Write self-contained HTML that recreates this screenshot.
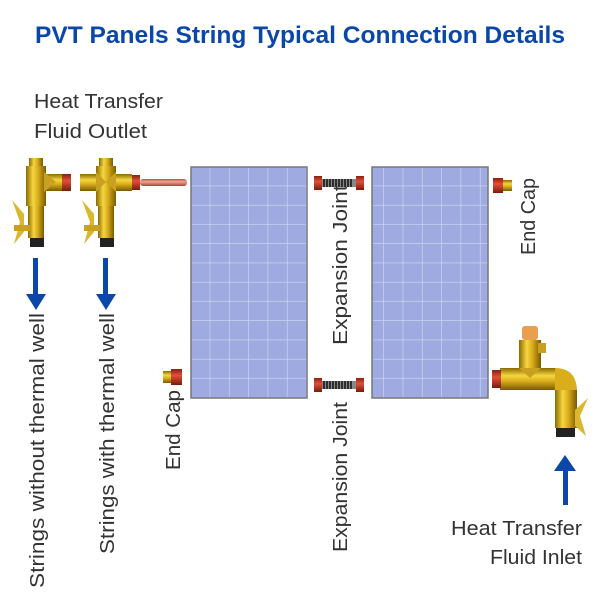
<!DOCTYPE html>
<html><head><meta charset="utf-8"><style>
html,body{margin:0;padding:0;background:#fff;}
svg{display:block;}
text{font-family:"Liberation Sans",sans-serif;}
</style></head><body>
<svg width="600" height="600" viewBox="0 0 600 600" xmlns="http://www.w3.org/2000/svg">
<defs>
<linearGradient id="gv" x1="0" y1="0" x2="1" y2="0">
<stop offset="0" stop-color="#8a6a00"/><stop offset="0.35" stop-color="#f5d640"/><stop offset="0.6" stop-color="#d9ad1c"/><stop offset="1" stop-color="#7a5a00"/></linearGradient>
<linearGradient id="gh" x1="0" y1="0" x2="0" y2="1">
<stop offset="0" stop-color="#8a6a00"/><stop offset="0.35" stop-color="#f5d640"/><stop offset="0.6" stop-color="#d9ad1c"/><stop offset="1" stop-color="#7a5a00"/></linearGradient>
<linearGradient id="rd" x1="0" y1="0" x2="0" y2="1">
<stop offset="0" stop-color="#8a2010"/><stop offset="0.4" stop-color="#e0503a"/><stop offset="1" stop-color="#7a1a0a"/></linearGradient>
<linearGradient id="cp" x1="0" y1="0" x2="0" y2="1">
<stop offset="0" stop-color="#b05a48"/><stop offset="0.4" stop-color="#f0a090"/><stop offset="1" stop-color="#a04a3a"/></linearGradient>
<pattern id="cells" x="191" y="167" width="19.3" height="19.25" patternUnits="userSpaceOnUse">
<rect width="19.3" height="19.25" fill="#9eaae0"/>
<path d="M19.3 0V19.25M0 19.25H19.3" stroke="#d4daf4" stroke-width="1.2"/>
</pattern>
</defs>

<text x="300" y="43" text-anchor="middle" font-size="24" font-weight="bold" fill="#0a47a9" textLength="530" lengthAdjust="spacingAndGlyphs">PVT Panels String Typical Connection Details</text>

<text x="34" y="108" font-size="20" fill="#333" textLength="129" lengthAdjust="spacingAndGlyphs">Heat Transfer</text>
<text x="34" y="138" font-size="20" fill="#333" textLength="113" lengthAdjust="spacingAndGlyphs">Fluid Outlet</text>

<rect x="191" y="167" width="116" height="231" fill="url(#cells)" stroke="#777" stroke-width="1.5"/>
<rect x="372" y="167" width="116" height="231" fill="url(#cells)" stroke="#777" stroke-width="1.5"/>

<g>
<rect x="29" y="158" width="14" height="8" fill="url(#gv)"/>
<rect x="26" y="166" width="20" height="40" fill="url(#gv)"/>
<rect x="44" y="174" width="18" height="17" fill="url(#gh)"/>
<path d="M44 172 L56 182 L44 192Z" fill="#c9a020"/>
<rect x="62" y="174" width="9" height="17" fill="url(#rd)"/>
<rect x="28" y="206" width="16" height="32" fill="url(#gv)"/>
<path d="M12 200 L24 214 L24 232 L14 244 L20 222Z" fill="#d9b830"/>
<rect x="14" y="225" width="16" height="6" fill="#c9a020"/>
<rect x="30" y="238" width="14" height="9" fill="#222"/>
</g>
<g>
<rect x="99" y="158" width="14" height="8" fill="url(#gv)"/>
<rect x="96" y="166" width="20" height="40" fill="url(#gv)"/>
<rect x="80" y="174" width="16" height="17" fill="url(#gh)"/>
<rect x="116" y="174" width="16" height="17" fill="url(#gh)"/>
<path d="M96 172 L106 182 L96 192Z M116 172 L106 182 L116 192Z" fill="#c9a020"/>
<rect x="132" y="175" width="8" height="15" fill="url(#rd)"/>
<rect x="140" y="179" width="47" height="7" rx="3" fill="url(#cp)"/>
<rect x="98" y="206" width="16" height="32" fill="url(#gv)"/>
<path d="M82 200 L94 214 L94 232 L84 244 L90 222Z" fill="#d9b830"/>
<rect x="84" y="225" width="16" height="6" fill="#c9a020"/>
<rect x="100" y="238" width="14" height="9" fill="#222"/>
</g>

<rect x="33" y="258" width="5" height="38" fill="#0a47a9"/>
<path d="M26 294 L46 294 L36 310Z" fill="#0a47a9"/>
<rect x="103" y="258" width="5" height="38" fill="#0a47a9"/>
<path d="M96 294 L116 294 L106 310Z" fill="#0a47a9"/>

<text transform="translate(44,588) rotate(-90)" font-size="20" fill="#333" textLength="275" lengthAdjust="spacingAndGlyphs">Strings without thermal well</text>
<text transform="translate(114,554) rotate(-90)" font-size="20" fill="#333" textLength="241" lengthAdjust="spacingAndGlyphs">Strings with thermal well</text>
<text transform="translate(180,470) rotate(-90)" font-size="20" fill="#333" textLength="80" lengthAdjust="spacingAndGlyphs">End Cap</text>
<text transform="translate(347,345) rotate(-90)" font-size="20" fill="#333" textLength="160" lengthAdjust="spacingAndGlyphs">Expansion Joint</text>
<text transform="translate(347,552) rotate(-90)" font-size="20" fill="#333" textLength="150" lengthAdjust="spacingAndGlyphs">Expansion Joint</text>
<text transform="translate(535,255) rotate(-90)" font-size="20" fill="#333" textLength="77" lengthAdjust="spacingAndGlyphs">End Cap</text>

<rect x="163" y="371" width="8" height="12" fill="url(#gh)"/>
<rect x="171" y="369" width="11" height="16" fill="url(#rd)"/>
<rect x="493" y="178" width="10" height="15" fill="url(#rd)"/>
<rect x="503" y="180" width="9" height="11" fill="url(#gh)"/>

<g>
<rect x="314" y="176" width="8" height="14" fill="url(#rd)"/>
<rect x="356" y="176" width="8" height="14" fill="url(#rd)"/>
<rect x="322" y="179" width="34" height="8" fill="#888"/>
<path d="M324 179v8M327 179v8M330 179v8M333 179v8M336 179v8M339 179v8M342 179v8M345 179v8M348 179v8M351 179v8" stroke="#111" stroke-width="1.5"/>
<rect x="314" y="378" width="8" height="14" fill="url(#rd)"/>
<rect x="356" y="378" width="8" height="14" fill="url(#rd)"/>
<rect x="322" y="381" width="34" height="8" fill="#888"/>
<path d="M324 381v8M327 381v8M330 381v8M333 381v8M336 381v8M339 381v8M342 381v8M345 381v8M348 381v8M351 381v8" stroke="#111" stroke-width="1.5"/>
</g>

<g>
<rect x="522" y="326" width="16" height="14" rx="3" fill="#e8a050"/>
<rect x="519" y="340" width="22" height="30" fill="url(#gv)"/>
<rect x="538" y="343" width="8" height="10" fill="#c9a020"/>
<rect x="500" y="368" width="57" height="22" fill="url(#gh)"/>
<path d="M519 368 L530 378 L541 368Z" fill="#c9a020"/>
<rect x="492" y="370" width="9" height="18" fill="url(#rd)"/>
<path d="M555 368 Q577 368 577 392 L555 392Z" fill="#d9ad1c"/>
<rect x="555" y="390" width="22" height="38" fill="url(#gv)"/>
<path d="M588 398 L575 410 L575 426 L586 436 L580 416Z" fill="#d9b830"/>
<rect x="556" y="428" width="19" height="9" fill="#222"/>
</g>

<rect x="563" y="469" width="5" height="36" fill="#0a47a9"/>
<path d="M554 471 L576 471 L565 455Z" fill="#0a47a9"/>

<text x="582" y="535" text-anchor="end" font-size="20" fill="#333" textLength="131" lengthAdjust="spacingAndGlyphs">Heat Transfer</text>
<text x="582" y="564" text-anchor="end" font-size="20" fill="#333" textLength="92" lengthAdjust="spacingAndGlyphs">Fluid Inlet</text>
</svg>
</body></html>
